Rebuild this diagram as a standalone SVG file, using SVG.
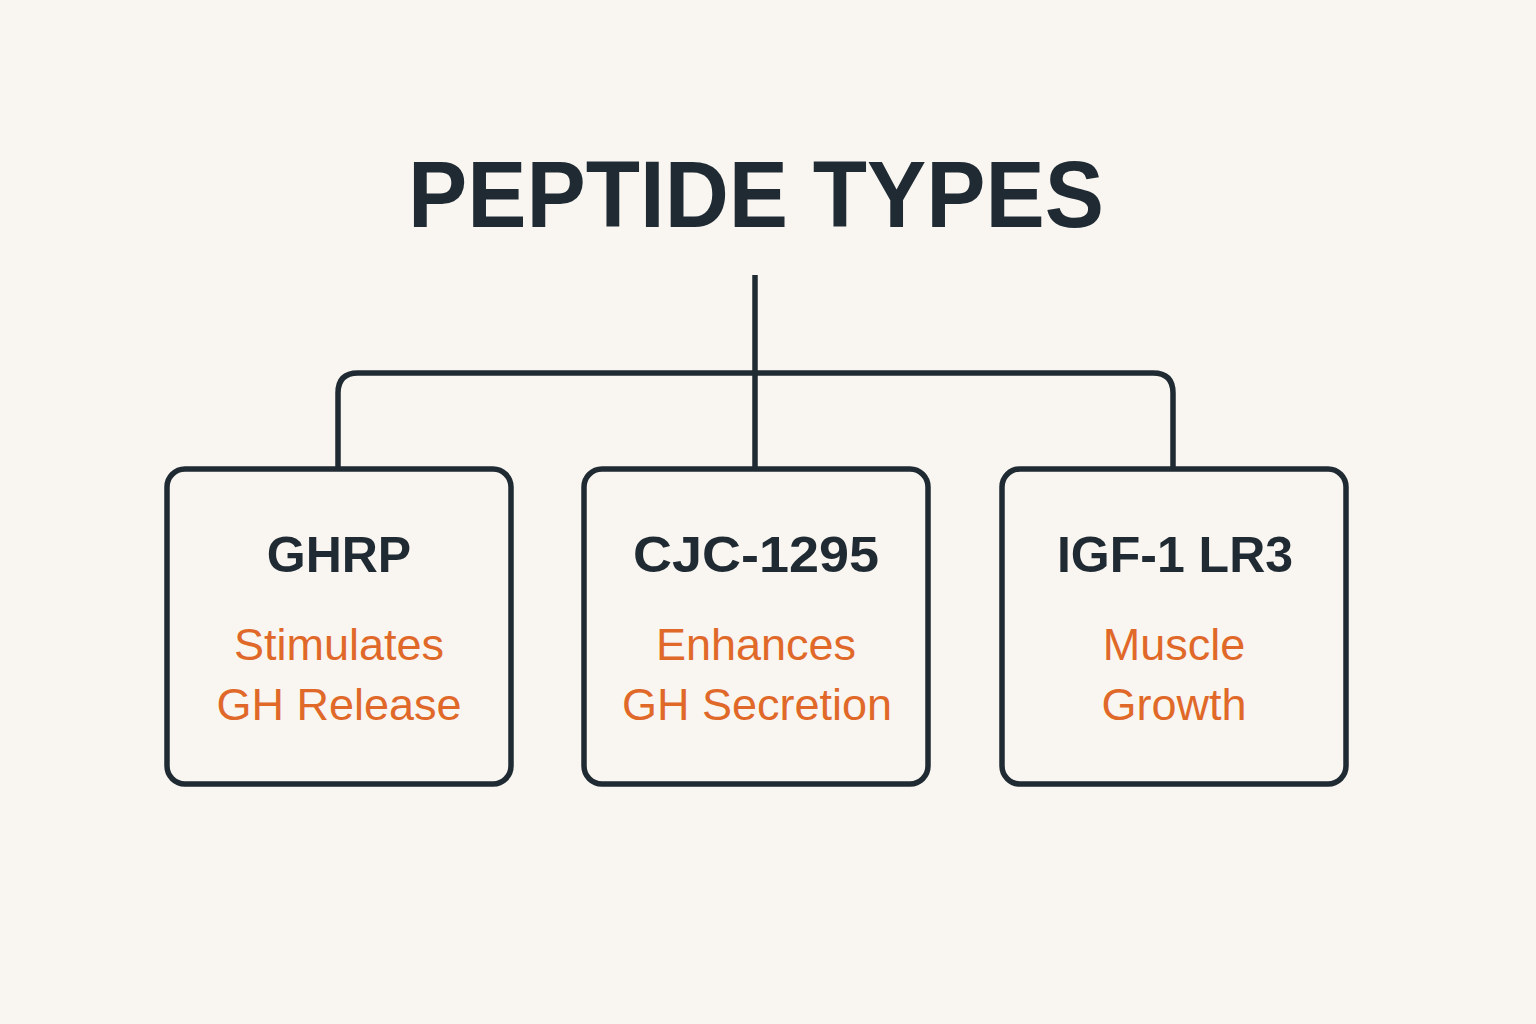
<svg xmlns="http://www.w3.org/2000/svg" width="1536" height="1024" viewBox="0 0 1536 1024">
<style>
.bg{fill:#f9f6f1}
.box{fill:#f9f6f1;stroke:#1f2a33;stroke-width:5.5}
.conn{fill:none;stroke:#1f2a33;stroke-width:5.5}
.title{font-family:"Liberation Sans",Arial,sans-serif;font-weight:bold;font-size:95px;fill:#1f2a33;text-anchor:middle}
.name{font-family:"Liberation Sans",Arial,sans-serif;font-weight:bold;font-size:50px;fill:#1f2a33;text-anchor:middle}
.desc{font-family:"Liberation Sans",Arial,sans-serif;font-size:45px;fill:#e0692a;text-anchor:middle}
</style>
<rect class="bg" x="0" y="0" width="1536" height="1024"/>
<text class="title" x="756" y="227" textLength="696" lengthAdjust="spacingAndGlyphs">PEPTIDE TYPES</text>
<g id="connectors">
<path class="conn" d="M755 275 V469"/>
<path class="conn" d="M338 469 V393 Q338 373 358 373 H1153 Q1173 373 1173 393 V469"/>
</g>
<g id="ghrp">
<rect class="box" x="167" y="469" width="344" height="315" rx="18"/>
<text class="name" x="339" y="572">GHRP</text>
<text class="desc" x="339" y="660">Stimulates</text>
<text class="desc" x="339" y="720">GH Release</text>
</g>
<g id="cjc">
<rect class="box" x="584" y="469" width="344" height="315" rx="18"/>
<text class="name" x="756" y="572" textLength="246" lengthAdjust="spacingAndGlyphs">CJC-1295</text>
<text class="desc" x="756" y="660">Enhances</text>
<text class="desc" x="757" y="720">GH Secretion</text>
</g>
<g id="igf">
<rect class="box" x="1002" y="469" width="344" height="315" rx="18"/>
<text class="name" x="1175" y="572">IGF-1 LR3</text>
<text class="desc" x="1174" y="660">Muscle</text>
<text class="desc" x="1174" y="720">Growth</text>
</g>
</svg>
